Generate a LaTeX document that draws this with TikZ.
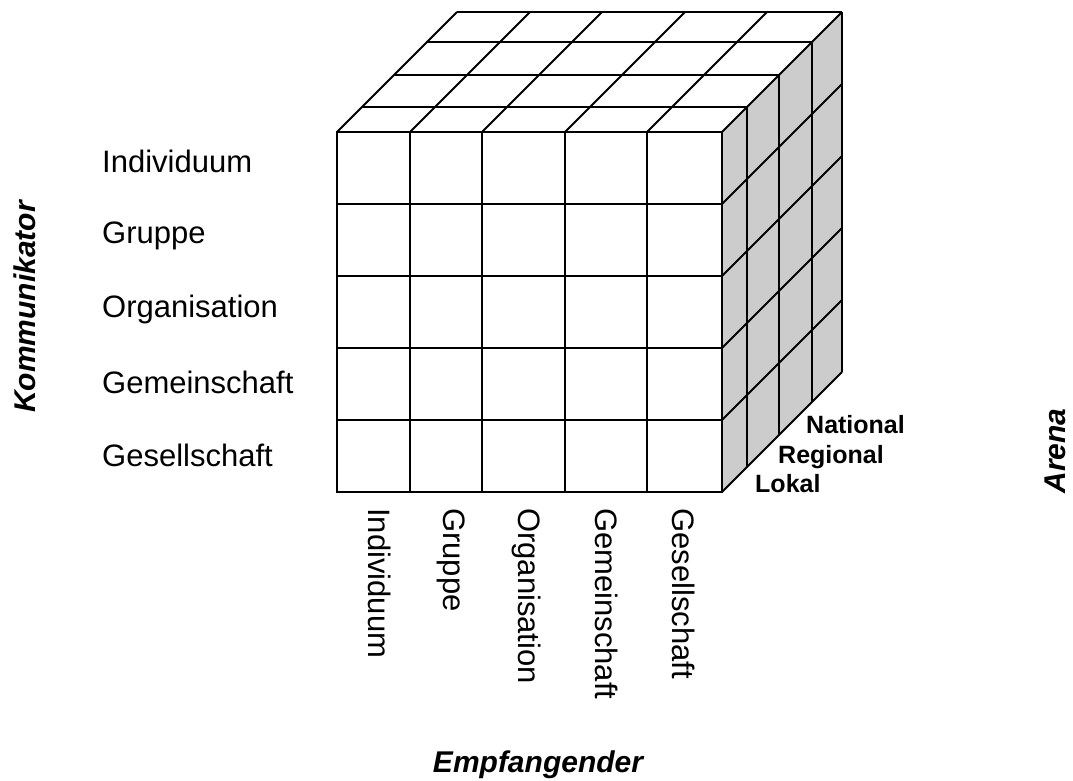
\documentclass[tikz,border=0pt]{standalone}
\usepackage{fontspec}
\setmainfont{Liberation Sans}
\begin{document}
\begin{tikzpicture}[x=1pt,y=-1pt,
  edge/.style={line width=1.8pt, line join=miter},
  lab/.style={font=\fontsize{31}{36}\selectfont, inner sep=0pt},
  dep/.style={font=\bfseries\fontsize{25}{30}\selectfont, inner sep=0pt, anchor=base west},
  axislab/.style={font=\bfseries\itshape\fontsize{30}{36}\selectfont, inner sep=0pt, anchor=base}]
\useasboundingbox (0,0) rectangle (1073,780);
% side face fill
\fill[black!20] (722,132) -- (842,12) -- (842,372) -- (722,492) -- cycle;
% front face
\draw[edge] (337,132) rectangle (722,492);
\foreach \x in {410,482,565,647} \draw[edge] (\x,132) -- (\x,492);
\foreach \y in {204,276,348,420} \draw[edge] (337,\y) -- (722,\y);
% top face
\foreach \d in {25,57,90,120} \draw[edge] (337+\d,132-\d) -- (722+\d,132-\d);
\foreach \x in {337,410,482,565,647,722} \draw[edge] (\x,132) -- (\x+120,12);
% side face
\foreach \d in {25,57,90,120} \draw[edge] (722+\d,132-\d) -- (722+\d,492-\d);
\foreach \y in {204,276,348,420,492} \draw[edge] (722,\y) -- (842,\y-120);
% row labels (Kommunikator)
\node[lab, anchor=base west] (k1) at (102,172) {Individuum};
\node[lab, anchor=base west] (k2) at (102,243) {Gruppe};
\node[lab, anchor=base west] (k3) at (102,317) {Organisation};
\node[lab, anchor=base west] (k4) at (102,393) {Gemeinschaft};
\node[lab, anchor=base west] (k5) at (102,466) {Gesellschaft};
% column labels (Empfangender)
\node[lab, rotate=-90, anchor=base west] (e1) at (368,508) {Individuum};
\node[lab, rotate=-90, anchor=base west] (e2) at (443,508) {Gruppe};
\node[lab, rotate=-90, anchor=base west] (e3) at (518,508) {Organisation};
\node[lab, rotate=-90, anchor=base west] (e4) at (595,508) {Gemeinschaft};
\node[lab, rotate=-90, anchor=base west] (e5) at (672,508) {Gesellschaft};
% depth labels (Arena)
\node[dep] (a3) at (806,433) {National};
\node[dep] (a2) at (778,463) {Regional};
\node[dep] (a1) at (755,492) {Lokal};
% axis titles
\node[axislab, rotate=90] (kom) at (35,307) {Kommunikator};
\node[axislab, rotate=90] (are) at (1065,451) {Arena};
\node[axislab] (emp) at (538,772) {Empfangender};
\end{tikzpicture}
\end{document}
